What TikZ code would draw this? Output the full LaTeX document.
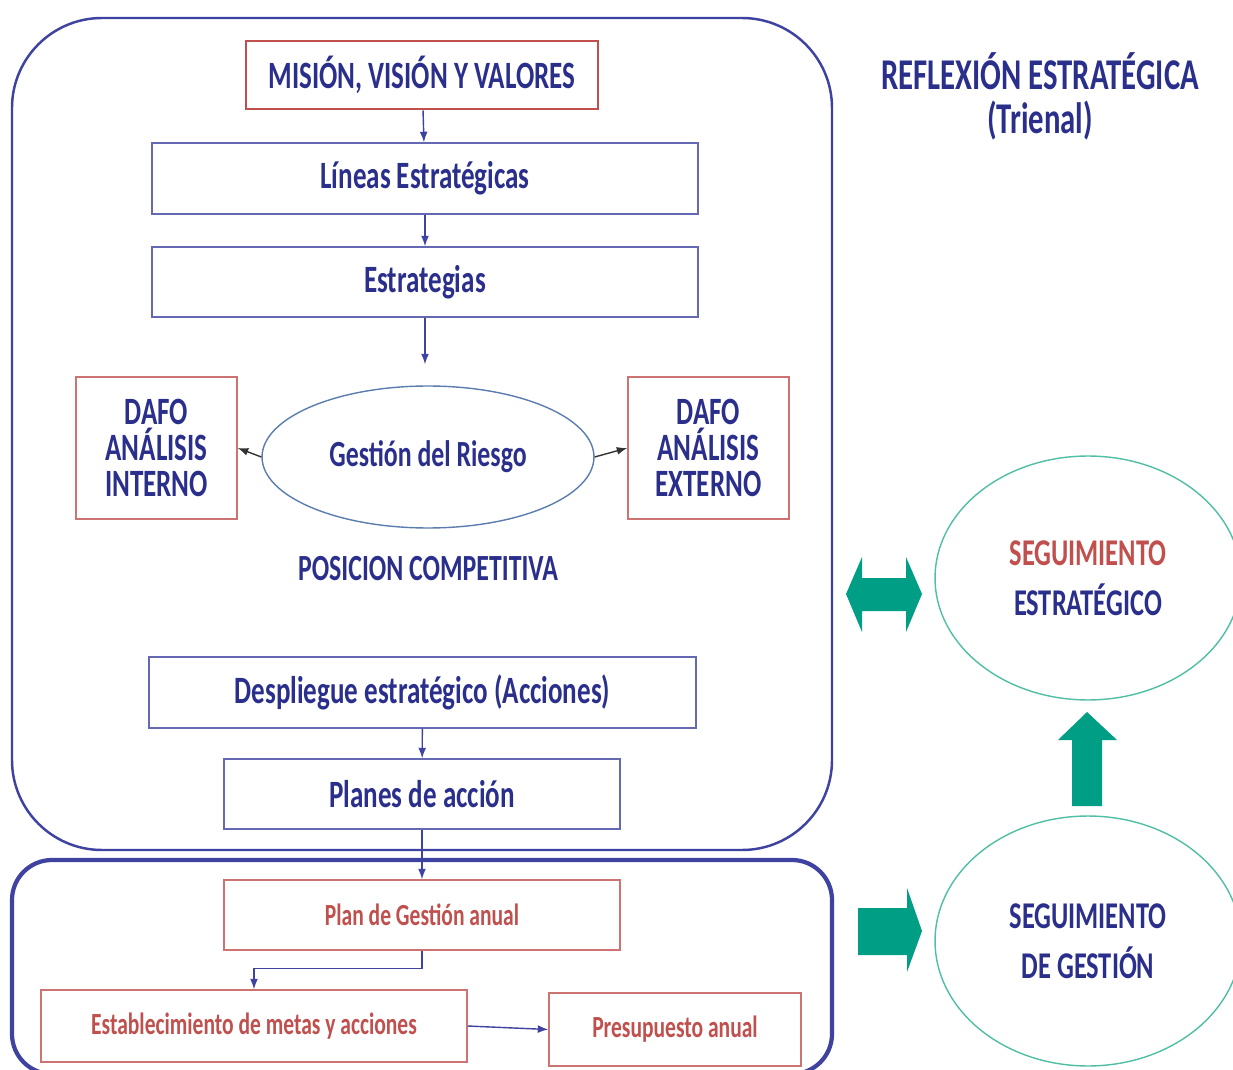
\documentclass[tikz,border=0pt]{standalone}
\usepackage{fontspec}
\setmainfont{Carlito}[FakeStretch=0.7]
\usepackage{tikz}
\usetikzlibrary{shapes,arrows.meta,positioning,calc}
\definecolor{navy}{RGB}{43,47,140}
\definecolor{frameblue}{RGB}{62,66,160}
\definecolor{boxred}{RGB}{192,80,77}
\definecolor{arrowteal}{RGB}{0,158,132}
\definecolor{rimteal}{RGB}{80,190,165}
\definecolor{rimblue}{RGB}{90,125,175}
\tikzstyle{box} = [draw=frameblue!80, line width=0.8pt, inner sep=0pt, align=center, text=navy, font=\bfseries\fontsize{22}{20.5}\selectfont]
\tikzstyle{redbox} = [box, draw=boxred!80]
\tikzstyle{annual} = [redbox, text=boxred, font=\bfseries\fontsize{17.5}{20}\selectfont]
\tikzstyle{oval} = [ellipse, draw=rimteal, line width=0.8pt, inner sep=0pt, align=center, text=navy, font=\bfseries\fontsize{21.5}{28.5}\selectfont]
\tikzstyle{line} = [draw=frameblue, line width=0.8pt, -{Latex[length=6pt,width=4.5pt]}]
\tikzstyle{blackline} = [draw=black!80, line width=0.8pt, -{Latex[length=6pt,width=4.5pt]}]
\tikzset{>=latex}

\begin{document}
\begin{tikzpicture}[x=0.02cm,y=-0.02cm]
    \useasboundingbox (0,0) rectangle (1233,1070);
    \draw [frameblue, line width=1.4pt, rounded corners=1.8cm] (12,18) rectangle (832,850);
    \draw [frameblue, line width=2.4pt, rounded corners=0.8cm] (12,860) rectangle (832,1074);
    \node [box, draw=boxred, line width=1.6pt, minimum width=7.04cm, minimum height=1.36cm] (mision) at (422,75) {MISIÓN, VISIÓN Y VALORES};
    \node [box, minimum width=10.92cm, minimum height=1.42cm] (lineas) at (425,178.5) {Líneas Estratégicas};
    \node [box, minimum width=10.92cm, minimum height=1.4cm] (estrategias) at (425,282) {Estrategias};
    \node [redbox, minimum width=3.22cm, minimum height=2.84cm] (dafoint) at (156.5,448) {DAFO\\ANÁLISIS\\INTERNO};
    \node [ellipse, draw=rimblue, line width=0.8pt, inner sep=0pt, minimum width=6.64cm, minimum height=2.84cm, text=navy, font=\bfseries\fontsize{21}{24}\selectfont] (riesgo) at (428,457) {Gestión del Riesgo};
    \node [redbox, minimum width=3.22cm, minimum height=2.84cm] (dafoext) at (708.5,448) {DAFO\\ANÁLISIS\\EXTERNO};
    \node [text=navy, font=\bfseries\fontsize{21}{24}\selectfont] (posicion) at (428,569) {POSICION COMPETITIVA};
    \node [box, minimum width=10.94cm, minimum height=1.42cm] (despliegue) at (422.5,692.5) {Despliegue estratégico (Acciones)};
    \node [box, minimum width=7.92cm, minimum height=1.4cm] (planes) at (422,794) {Planes de acción};
    \node [annual, minimum width=7.92cm, minimum height=1.4cm] (plangestion) at (422,915) {Plan de Gestión anual};
    \node [annual, minimum width=8.52cm, minimum height=1.44cm] (metas) at (254,1026) {Establecimiento de metas y acciones};
    \node [annual, minimum width=5.04cm, minimum height=1.46cm] (presupuesto) at (675,1029.5) {Presupuesto anual};
    \node [text=navy, font=\bfseries\fontsize{25}{25}\selectfont, align=center] (reflexion) at (1040,96) {REFLEXIÓN ESTRATÉGICA\\(Trienal)};
    \node [oval, minimum width=6.12cm, minimum height=4.88cm] (segestr) at (1088,578) {\textcolor{boxred}{SEGUIMIENTO}\\ESTRATÉGICO};
    \node [oval, minimum width=6.12cm, minimum height=5cm] (seggest) at (1088,941) {SEGUIMIENTO\\DE GESTIÓN};
    \draw [line] (mision) -- (lineas);
    \draw [line] (lineas) -- (estrategias);
    \draw [line, shorten >=0.42cm] (estrategias.south) -- (estrategias.south |- riesgo.north);
    \draw [blackline] (riesgo.west) -- (dafoint.east);
    \draw [blackline] (riesgo.east) -- (dafoext.west);
    \draw [line] (despliegue) -- (planes);
    \draw [line] (planes) -- (plangestion);
    \draw [line] (plangestion.south) -- ++(0,18) -| (metas.north);
    \draw [line] (metas.east) -- (presupuesto.west);
    \fill [arrowteal] (846,594) -- (862,557) -- (862,578) -- (906,578) -- (906,557) -- (922,594) -- (906,632) -- (906,611) -- (862,611) -- (862,632) -- cycle;
    \fill [arrowteal] (1087,712) -- (1117,740) -- (1102,740) -- (1102,806) -- (1072,806) -- (1072,740) -- (1058,740) -- cycle;
    \fill [arrowteal] (858,908) -- (907,908) -- (907,888) -- (922,931) -- (907,972) -- (907,955) -- (858,955) -- cycle;
  \end{tikzpicture}
\end{document}
